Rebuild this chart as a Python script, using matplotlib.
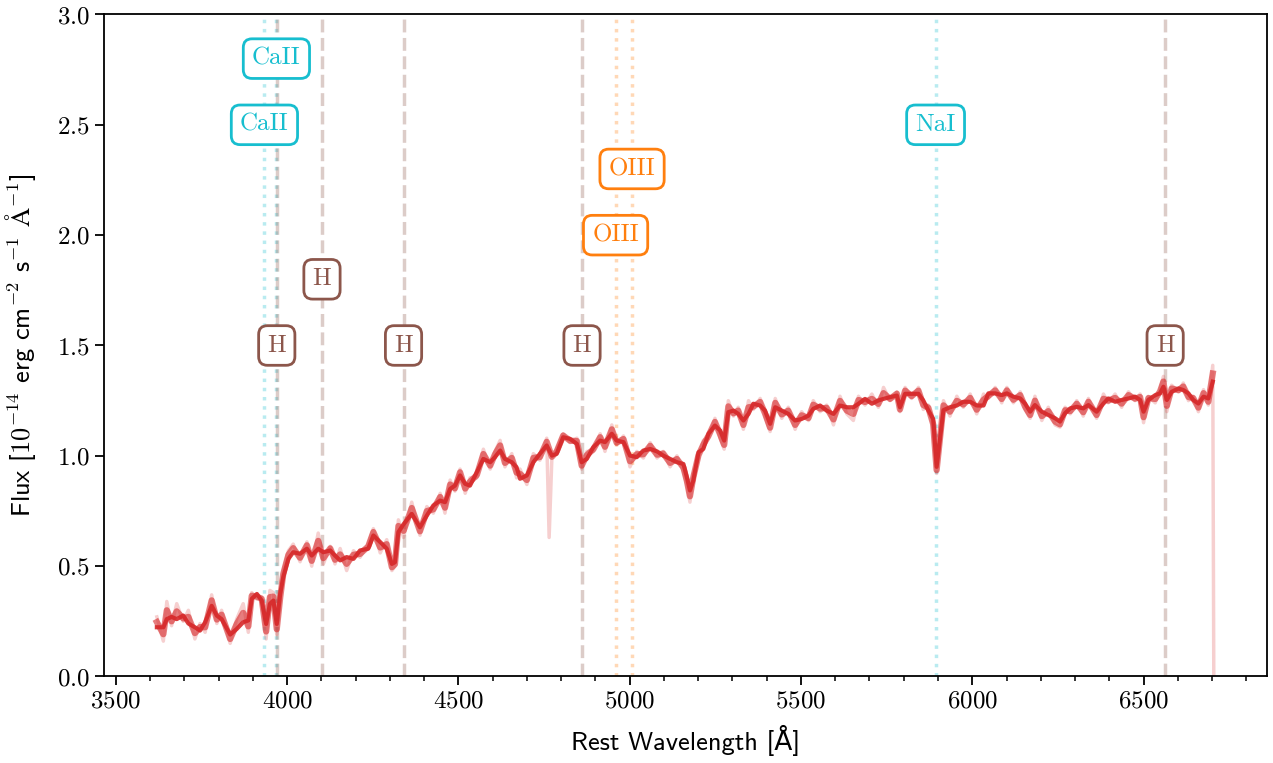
import numpy as np
import matplotlib
matplotlib.use("Agg")
import matplotlib.pyplot as plt

plt.rcParams['font.family'] = ['cmr10', 'DejaVu Serif']
plt.rcParams['mathtext.fontset'] = 'cm'
plt.rcParams['axes.formatter.use_mathtext'] = True
plt.rcParams['axes.linewidth'] = 1.3

# smoothed spectrum (rest wavelength in Angstrom, flux in 1e-14 erg/cm2/s/A)
wave = [3620, 3639, 3649, 3663, 3678, 3697, 3712, 3731, 3746, 3761,
        3780, 3795, 3809, 3834, 3853, 3872, 3887, 3897, 3912, 3926,
        3939, 3950, 3960, 3970, 3980, 3989, 4004, 4018, 4038, 4058,
        4072, 4091, 4106, 4126, 4140, 4155, 4174, 4194, 4213, 4237,
        4252, 4272, 4291, 4306, 4315, 4325, 4340, 4364, 4388, 4408,
        4427, 4447, 4461, 4476, 4490, 4505, 4520, 4534, 4554, 4573,
        4593, 4607, 4622, 4636, 4656, 4670, 4680, 4700, 4719, 4738,
        4758, 4773, 4787, 4806, 4826, 4846, 4860, 4875, 4894, 4914,
        4928, 4948, 4962, 4982, 5001, 5021, 5040, 5060, 5080, 5098,
        5118, 5138, 5157, 5167, 5176, 5186, 5201, 5215, 5230, 5249,
        5264, 5276, 5288, 5303, 5317, 5332, 5347, 5361, 5381, 5395,
        5410, 5425, 5444, 5463, 5483, 5502, 5522, 5536, 5556, 5575,
        5595, 5614, 5634, 5653, 5668, 5687, 5707, 5726, 5741, 5760,
        5780, 5789, 5804, 5823, 5843, 5857, 5872, 5886, 5896, 5916,
        5935, 5955, 5974, 5994, 6013, 6033, 6047, 6067, 6086, 6101,
        6120, 6140, 6154, 6169, 6183, 6203, 6222, 6242, 6256, 6271,
        6286, 6305, 6324, 6339, 6363, 6383, 6397, 6417, 6436, 6456,
        6475, 6490, 6500, 6514, 6534, 6548, 6558, 6568, 6582, 6602,
        6616, 6631, 6645, 6660, 6675, 6689, 6702]

flux_smooth = [0.223, 0.223, 0.26, 0.27, 0.26, 0.276, 0.24, 0.223, 0.208, 0.246,
               0.32, 0.276, 0.26, 0.19, 0.215, 0.246, 0.254, 0.352, 0.374, 0.344,
               0.238, 0.329, 0.344, 0.238, 0.374, 0.45, 0.533, 0.563, 0.556, 0.579,
               0.548, 0.579, 0.563, 0.571, 0.548, 0.526, 0.541, 0.533, 0.571, 0.579,
               0.639, 0.609, 0.579, 0.51, 0.518, 0.654, 0.69, 0.737, 0.676, 0.729,
               0.775, 0.797, 0.79, 0.85, 0.865, 0.911, 0.873, 0.865, 0.926, 0.986,
               0.971, 0.994, 1.024, 0.986, 0.971, 0.948, 0.896, 0.911, 0.971, 1.009,
               1.047, 1.001, 1.009, 1.084, 1.077, 1.054, 0.971, 0.986, 1.039, 1.069,
               1.062, 1.1, 1.069, 1.062, 1.001, 0.994, 1.024, 1.031, 1.02, 1.001,
               0.986, 0.971, 0.963, 0.903, 0.843, 0.888, 1.016, 1.031, 1.1, 1.137,
               1.115, 1.069, 1.198, 1.205, 1.19, 1.16, 1.19, 1.236, 1.228, 1.205,
               1.145, 1.22, 1.205, 1.19, 1.16, 1.167, 1.182, 1.213, 1.228, 1.205,
               1.19, 1.228, 1.22, 1.22, 1.236, 1.258, 1.236, 1.251, 1.258, 1.266,
               1.273, 1.22, 1.281, 1.281, 1.281, 1.251, 1.205, 1.167, 0.95, 1.207,
               1.22, 1.228, 1.245, 1.245, 1.228, 1.228, 1.283, 1.283, 1.275, 1.283,
               1.268, 1.26, 1.237, 1.2, 1.23, 1.2, 1.185, 1.17, 1.155, 1.193,
               1.215, 1.222, 1.215, 1.23, 1.2, 1.237, 1.26, 1.245, 1.253, 1.26,
               1.268, 1.253, 1.2, 1.253, 1.275, 1.283, 1.313, 1.253, 1.29, 1.305,
               1.298, 1.283, 1.253, 1.237, 1.268, 1.26, 1.336]

# raw (unsmoothed) flux at the same wavelengths
flux_raw = [0.27, 0.16, 0.34, 0.23, 0.33, 0.25, 0.30, 0.17, 0.24, 0.20,
            0.37, 0.24, 0.30, 0.15, 0.26, 0.33, 0.20, 0.38, 0.35, 0.36,
            0.17, 0.39, 0.38, 0.19, 0.34, 0.48, 0.57, 0.60, 0.52, 0.61,
            0.50, 0.65, 0.51, 0.59, 0.51, 0.58, 0.48, 0.57, 0.54, 0.60,
            0.67, 0.56, 0.62, 0.48, 0.50, 0.71, 0.63, 0.79, 0.64, 0.77,
            0.74, 0.83, 0.74, 0.89, 0.84, 0.94, 0.83, 0.90, 0.90, 1.03,
            0.94, 1.02, 1.07, 0.95, 1.01, 0.90, 0.94, 0.87, 1.01, 0.98,
            1.08, 0.99, 1.03, 1.10, 1.06, 1.08, 0.94, 1.02, 1.02, 1.10,
            1.02, 1.14, 1.05, 1.09, 0.95, 1.02, 0.99, 1.06, 0.99, 1.02,
            0.95, 1.00, 0.93, 0.87, 0.79, 0.92, 0.99, 1.07, 1.08, 1.17,
            1.08, 1.03, 1.25, 1.18, 1.22, 1.12, 1.25, 1.21, 1.26, 1.18,
            1.11, 1.26, 1.17, 1.22, 1.12, 1.20, 1.16, 1.25, 1.20, 1.23,
            1.14, 1.27, 1.19, 1.16, 1.27, 1.23, 1.28, 1.22, 1.31, 1.25,
            1.29, 1.20, 1.31, 1.26, 1.31, 1.21, 1.23, 1.12, 0.92, 1.25,
            1.18, 1.27, 1.22, 1.28, 1.19, 1.28, 1.26, 1.31, 1.24, 1.31,
            1.24, 1.29, 1.21, 1.17, 1.27, 1.16, 1.22, 1.14, 1.13, 1.22,
            1.19, 1.25, 1.18, 1.26, 1.17, 1.28, 1.24, 1.28, 1.22, 1.29,
            1.25, 1.28, 1.15, 1.27, 1.24, 1.30, 1.36, 1.20, 1.32, 1.29,
            1.33, 1.25, 1.27, 1.20, 1.30, 1.23, 1.41]

# bad pixels in the raw spectrum
spike_wave = [4765, 6705]
spike_flux = [0.63, 0.0]

# spectral lines: name, wavelength, label height, colour, linestyle
line_names = ['CaII', 'CaII', 'H', 'H', 'H', 'H', 'H', 'OIII', 'OIII', 'NaI']
line_waves = [3934, 3969, 3970, 4102, 4340, 4861, 6563, 4959, 5007, 5893]
label_y = [2.5, 2.8, 1.5, 1.8, 1.5, 1.5, 1.5, 2.0, 2.3, 2.5]
line_colors = ['tab:cyan', 'tab:cyan', 'tab:brown', 'tab:brown', 'tab:brown',
               'tab:brown', 'tab:brown', 'tab:orange', 'tab:orange', 'tab:cyan']
line_styles = [':', ':', '--', '--', '--', '--', '--', ':', ':', ':']

wave = np.array(wave, dtype=float)
flux_smooth = np.array(flux_smooth)
flux_raw = np.array(flux_raw)
flux_mid = 0.5 * (flux_raw + flux_smooth)

raw_w = np.concatenate([wave, spike_wave])
raw_f = np.concatenate([flux_raw, spike_flux])
order = np.argsort(raw_w, kind='stable')
raw_w, raw_f = raw_w[order], raw_f[order]

fig, ax = plt.subplots(figsize=(12.73, 7.63), dpi=100)
fig.subplots_adjust(left=0.0817, right=0.995, top=0.981, bottom=0.1134)

ax.plot(raw_w, raw_f, color='tab:red', alpha=0.22, lw=2.5)
ax.plot(wave, flux_mid, color='tab:red', alpha=0.6, lw=4.5)
ax.plot(wave, flux_smooth, color='tab:red', alpha=0.9, lw=3)

for name, w, yl, c, ls in zip(line_names, line_waves, label_y, line_colors, line_styles):
    ax.axvline(w, color=c, ls=ls, lw=2.5, alpha=0.3, zorder=0)
    ax.text(w, yl, name, color=c, fontsize=18, ha='center', va='center',
            bbox=dict(boxstyle='round,pad=0.35', fc='white', ec=c, lw=2))

ax.set_ylim(0, 3)
ax.set_xticks(np.arange(3500, 6501, 500))
ax.set_xticks(np.arange(3500, 6851, 100), minor=True)
ax.tick_params(labelsize=18)
ax.tick_params(which='major', length=6.5, width=1.3)
ax.tick_params(which='minor', length=3.5, width=1.1)
ax.set_xlabel('Rest Wavelength [Å]', fontsize=19, family=['cmss10', 'DejaVu Sans'],
              labelpad=9)
ax.set_ylabel(r'Flux [$\mathsf{10^{-14}}$ erg cm$\mathsf{^{-2}}$ s$\mathsf{^{-1}}$ $\mathrm{\AA}^{-1}$]',
              fontsize=19, family=['cmss10', 'DejaVu Sans'], labelpad=14)

plt.savefig('out.png', dpi=100)
